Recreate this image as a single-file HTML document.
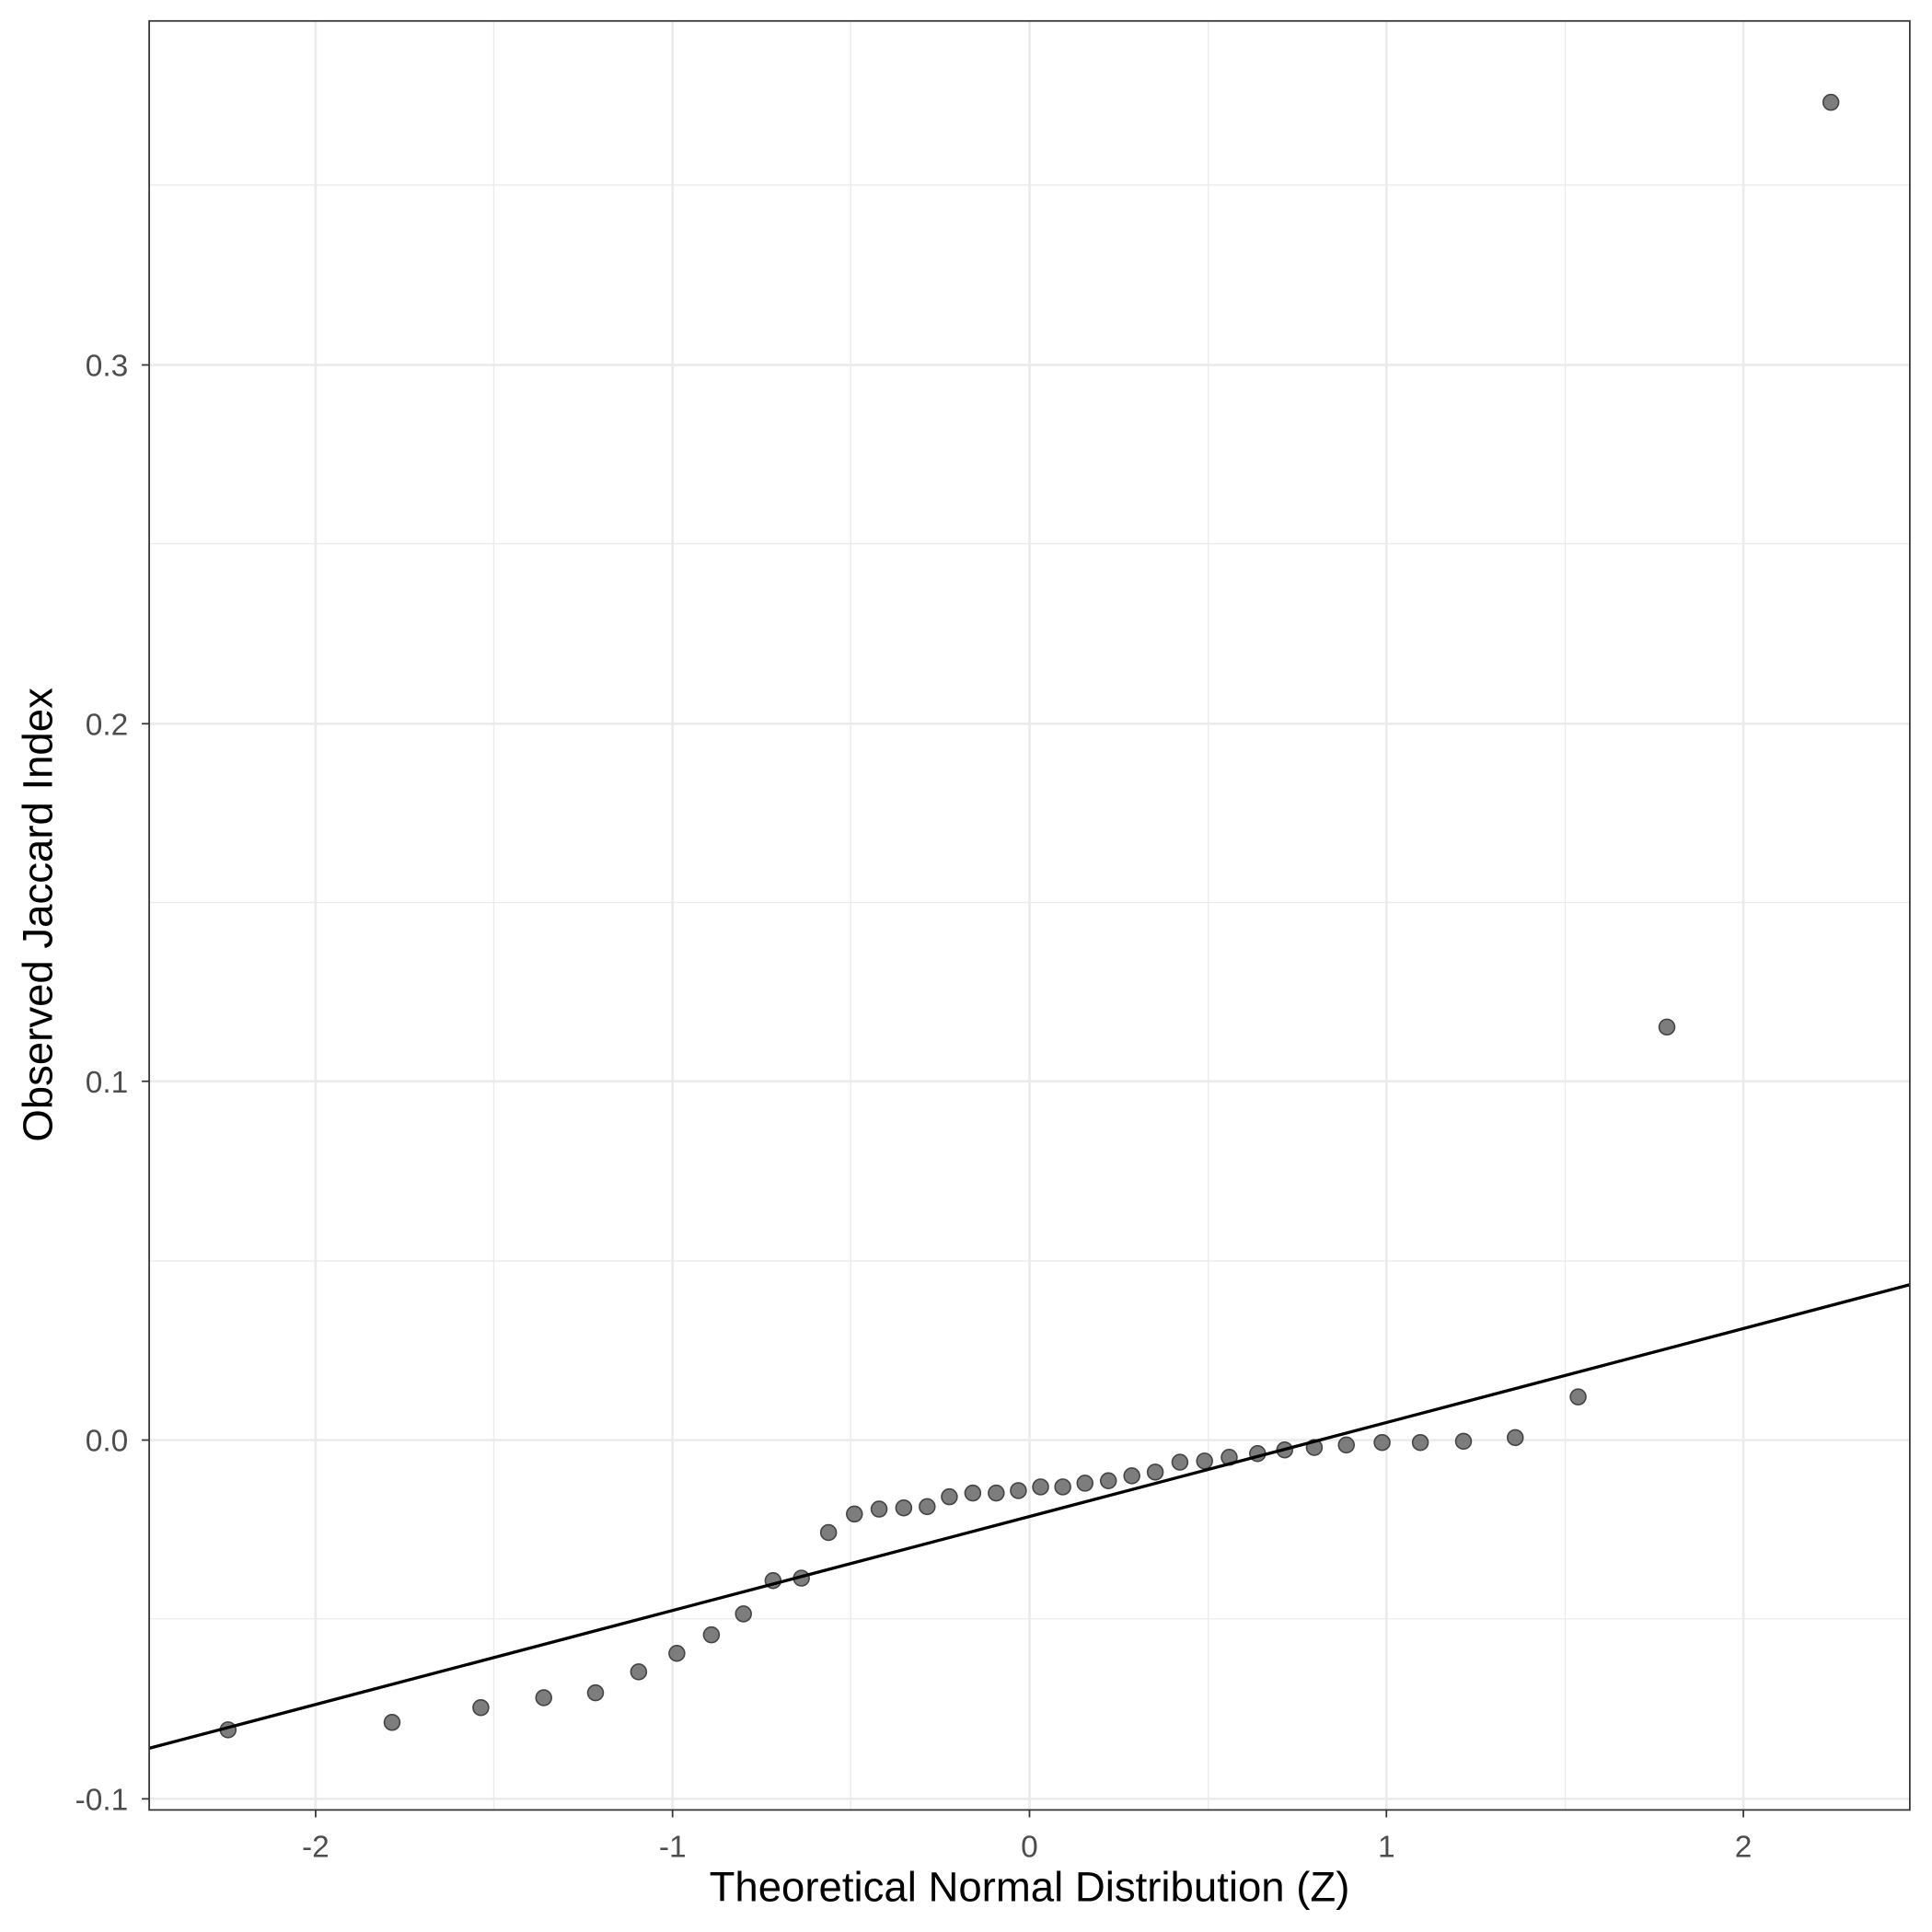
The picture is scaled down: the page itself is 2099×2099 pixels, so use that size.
<!DOCTYPE html>
<html><head><meta charset="utf-8"><style>html,body{margin:0;padding:0;background:#fff}svg{display:block}</style></head>
<body>
<svg width="2099" height="2099" viewBox="0 0 1567 1567" xmlns="http://www.w3.org/2000/svg" font-family="Liberation Sans, sans-serif">
<rect width="1567" height="1567" fill="#fff"/>
<g stroke="#ebebeb" stroke-width="1">
<line x1="400.5" y1="17" x2="400.5" y2="1468"/><line x1="690" y1="17" x2="690" y2="1468"/><line x1="980" y1="17" x2="980" y2="1468"/><line x1="1269.5" y1="17" x2="1269.5" y2="1468"/>
<line x1="121" y1="1313" x2="1549" y2="1313"/><line x1="121" y1="1022.7" x2="1549" y2="1022.7"/><line x1="121" y1="732" x2="1549" y2="732"/><line x1="121" y1="441" x2="1549" y2="441"/><line x1="121" y1="150" x2="1549" y2="150"/>
</g>
<g stroke="#ebebeb" stroke-width="2">
<line x1="256" y1="17" x2="256" y2="1468"/><line x1="545.5" y1="17" x2="545.5" y2="1468"/><line x1="835" y1="17" x2="835" y2="1468"/><line x1="1124.5" y1="17" x2="1124.5" y2="1468"/><line x1="1414" y1="17" x2="1414" y2="1468"/>
<line x1="121" y1="1459" x2="1549" y2="1459"/><line x1="121" y1="1168" x2="1549" y2="1168"/><line x1="121" y1="877" x2="1549" y2="877"/><line x1="121" y1="587" x2="1549" y2="587"/><line x1="121" y1="296" x2="1549" y2="296"/>
</g>
<g fill="#666" fill-opacity="0.85" stroke="#444" stroke-width="1.2">
<circle cx="185" cy="1403" r="6.3"/><circle cx="318" cy="1397" r="6.3"/><circle cx="390" cy="1385" r="6.3"/><circle cx="441" cy="1377" r="6.3"/><circle cx="483" cy="1373" r="6.3"/><circle cx="518" cy="1356" r="6.3"/><circle cx="549" cy="1341" r="6.3"/><circle cx="577" cy="1326" r="6.3"/><circle cx="603" cy="1309" r="6.3"/><circle cx="627" cy="1282" r="6.3"/><circle cx="650" cy="1280" r="6.3"/><circle cx="672" cy="1243" r="6.3"/><circle cx="693" cy="1228" r="6.3"/><circle cx="713" cy="1224" r="6.3"/><circle cx="733" cy="1223" r="6.3"/><circle cx="752" cy="1222" r="6.3"/><circle cx="770" cy="1214" r="6.3"/><circle cx="789" cy="1211" r="6.3"/><circle cx="808" cy="1211" r="6.3"/><circle cx="826" cy="1209" r="6.3"/><circle cx="844" cy="1206" r="6.3"/><circle cx="862" cy="1206" r="6.3"/><circle cx="880" cy="1203" r="6.3"/><circle cx="899" cy="1201" r="6.3"/><circle cx="918" cy="1197" r="6.3"/><circle cx="937" cy="1194" r="6.3"/><circle cx="957" cy="1186" r="6.3"/><circle cx="977" cy="1185" r="6.3"/><circle cx="997" cy="1182" r="6.3"/><circle cx="1020" cy="1179" r="6.3"/><circle cx="1042" cy="1176" r="6.3"/><circle cx="1066" cy="1174" r="6.3"/><circle cx="1092" cy="1172" r="6.3"/><circle cx="1121" cy="1170" r="6.3"/><circle cx="1152" cy="1170" r="6.3"/><circle cx="1187" cy="1169" r="6.3"/><circle cx="1229" cy="1166" r="6.3"/><circle cx="1280" cy="1133" r="6.3"/><circle cx="1352" cy="833" r="6.3"/><circle cx="1485" cy="83" r="6.3"/>
</g>
<line x1="121" y1="1418" x2="1549" y2="1042" stroke="#000" stroke-width="2.5"/>
<rect x="121" y="17" width="1428" height="1451" fill="none" stroke="#333" stroke-width="1.3"/>
<g stroke="#333" stroke-width="1.3">
<line x1="256" y1="1468" x2="256" y2="1474"/><line x1="545.5" y1="1468" x2="545.5" y2="1474"/><line x1="835" y1="1468" x2="835" y2="1474"/><line x1="1124.5" y1="1468" x2="1124.5" y2="1474"/><line x1="1414" y1="1468" x2="1414" y2="1474"/>
<line x1="115" y1="1459" x2="121" y2="1459"/><line x1="115" y1="1168" x2="121" y2="1168"/><line x1="115" y1="877" x2="121" y2="877"/><line x1="115" y1="587" x2="121" y2="587"/><line x1="115" y1="296" x2="121" y2="296"/>
</g>
<g fill="#4d4d4d" font-size="25" text-anchor="middle">
<text x="256" y="1506">-2</text><text x="545.5" y="1506">-1</text><text x="835" y="1506">0</text><text x="1124.5" y="1506">1</text><text x="1414" y="1506">2</text>
</g>
<g fill="#4d4d4d" font-size="25" text-anchor="end">
<text x="104" y="1468">-0.1</text><text x="104" y="1177">0.0</text><text x="104" y="886">0.1</text><text x="104" y="596">0.2</text><text x="104" y="305">0.3</text>
</g>
<text x="835" y="1542" font-size="34" text-anchor="middle" fill="#000">Theoretical Normal Distribution (Z)</text>
<text transform="translate(42,742) rotate(-90)" font-size="34" text-anchor="middle" fill="#000">Observed Jaccard Index</text>
</svg>
</body></html>
